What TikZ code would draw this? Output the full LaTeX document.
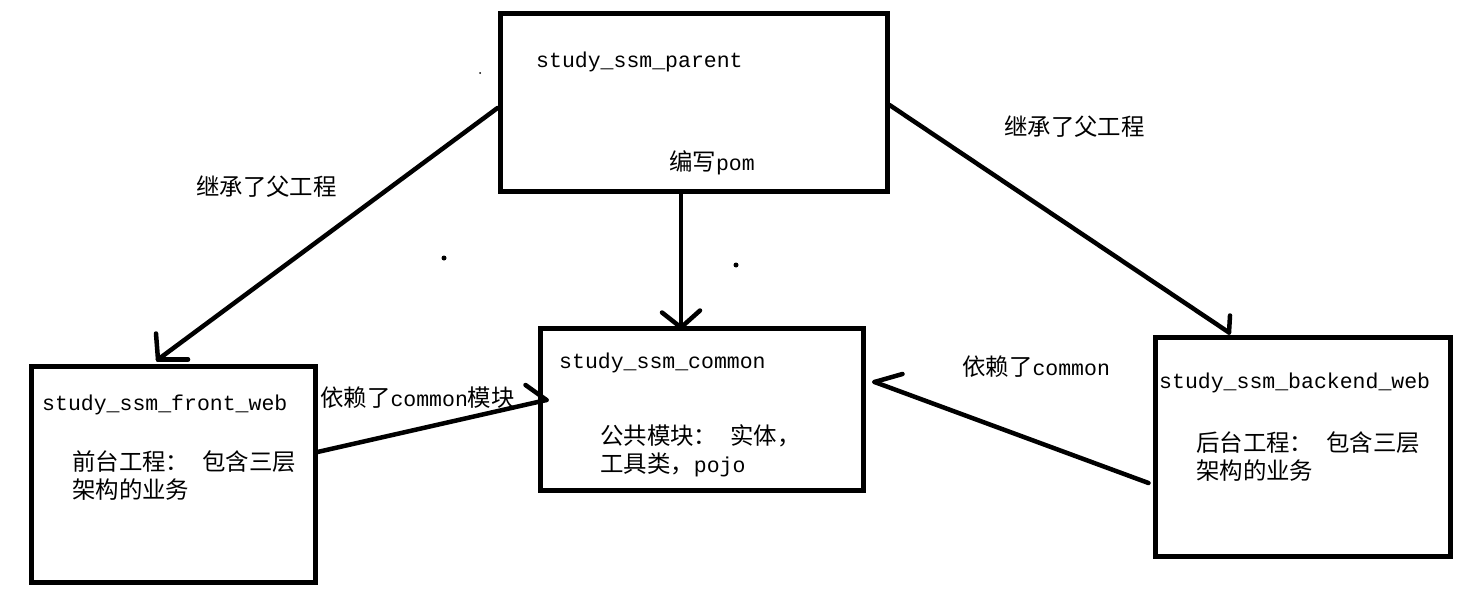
\documentclass[tikz,border=0pt]{standalone}
\usepackage{fontspec}
\setmainfont{Liberation Mono}
\newfontfamily\cjk[Scale=1.09]{Noto Sans CJK SC}
\usetikzlibrary{calc}
\tikzset{
  module/.style={draw,line width=5pt,inner sep=0pt},
  note/.style={inner sep=0pt,anchor=west,align=left,font=\fontsize{21.5}{28}\selectfont},
  stream/.style={line width=4.5pt,line cap=round},
  barb/.style={line width=4.5pt,line cap=round},
  speck/.style={fill=black}
}
\begin{document}
\begin{tikzpicture}[x=1pt,y=-1pt]
      \useasboundingbox (0,0) rectangle (1482,613);
      \node[module,minimum width=387pt,minimum height=178pt] (parent) at (693.5,102) {};
      \node[module,minimum width=323pt,minimum height=162pt] (common) at (701.5,409) {};
      \node[module,minimum width=284pt,minimum height=216pt] (frontweb) at (173,474) {};
      \node[module,minimum width=295pt,minimum height=219pt] (backendweb) at (1302.5,446.5) {};

      \node[note] (parenttitle) at (536,62) {study\_ssm\_parent};
      \node[note] (pomtext) at (669,163) {{\cjk 编写}pom};
      \node[note] (commontitle) at (559,363) {study\_ssm\_common};
      \node[note] (commontext) at (600,451) {{\cjk 公共模块：}\ {\cjk 实体，}\\{\cjk 工具类，}pojo};
      \node[note] (fronttitle) at (42,405) {study\_ssm\_front\_web};
      \node[note] (fronttext) at (72,476) {{\cjk 前台工程：}\ {\cjk 包含三层}\\{\cjk 架构的业务}};
      \node[note] (backendtitle) at (1159,383) {study\_ssm\_backend\_web};
      \node[note] (backendtext) at (1196,457) {{\cjk 后台工程：}\ {\cjk 包含三层}\\{\cjk 架构的业务}};

      \node[note] (inheritleft) at (196,187) {\cjk 继承了父工程};
      \node[note] (inheritright) at (1004,127) {\cjk 继承了父工程};
      \node[note] (dependleft) at (320,398) {{\cjk 依赖了}common{\cjk 模块}};
      \node[note] (dependright) at (962,367) {{\cjk 依赖了}common};

      \coordinate (fronthead) at ($ (frontweb.north) + (-15,-4) $);
      \coordinate (commonhead) at ($ (common.north) + (-20.5,2) $);
      \coordinate (backendhead) at ($ (backendweb.north) + (-73.5,-2) $);
      \coordinate (leftdephead) at ($ (common.west) + (9,-9) $);
      \coordinate (rightdephead) at ($ (common.east) + (9,-27) $);

      \draw[stream] ($ (parent.west) + (0,6) $) -- (fronthead);
      \draw[barb] (fronthead) -- ++(-2,-26);
      \draw[barb] (fronthead) -- ++(30,0);

      \draw[stream] ($ (parent.south) + (-12.5,0) $) -- (commonhead);
      \draw[barb] (commonhead) -- ++(-19,-15);
      \draw[barb] (commonhead) -- ++(19,-17);

      \draw[stream] ($ (parent.east) + (0,3) $) -- (backendhead);
      \draw[barb] (backendhead) -- ++(1,-17);

      \draw[stream] ($ (frontweb.east) + (0,-22) $) -- (leftdephead);
      \draw[barb] (leftdephead) -- ++(-21,-15);

      \draw[stream] ($ (backendweb.west) + (-4,36.5) $) -- (rightdephead);
      \draw[barb] (rightdephead) -- ++(28,-8);

      \fill[speck] (480,73) circle (1pt);
      \fill[speck] (444,258) circle (2.5pt);
      \fill[speck] (736,265) circle (2.5pt);
    \end{tikzpicture}
\end{document}
